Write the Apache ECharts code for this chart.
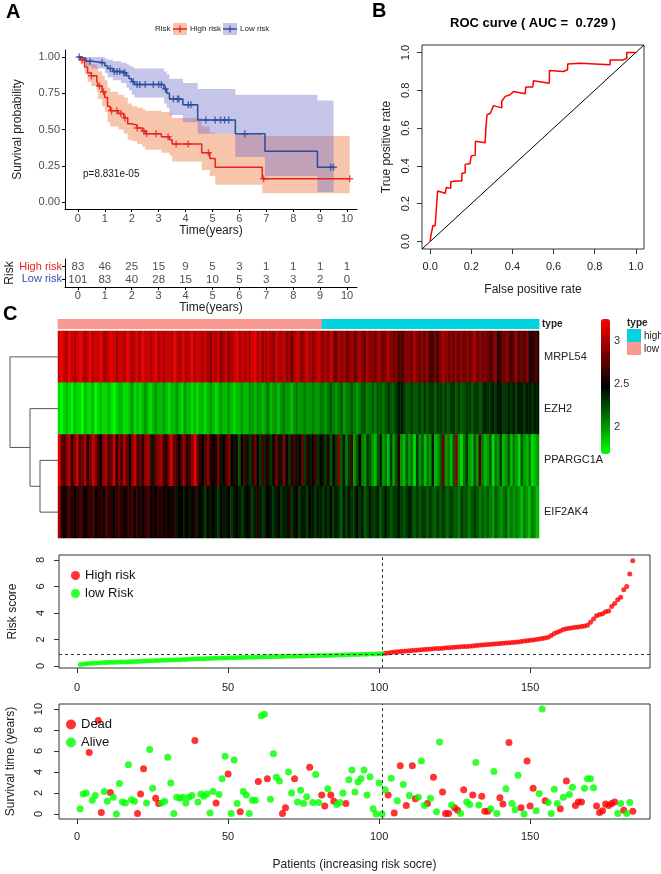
<!DOCTYPE html>
<html><head><meta charset="utf-8">
<script src="https://cdn.jsdelivr.net/npm/echarts/dist/echarts.min.js"></script>
<style>html,body{margin:0;padding:0;background:#fff}#c{width:661px;height:874px}</style>
</head><body><div id="c"></div><script>
// ---------------- data ----------------
const kmTicks = [0,1,2,3,4,5,6,7,8,9,10];
const atRiskHigh = [83,46,25,15,9,5,3,1,1,1,1];
const atRiskLow = [101,83,40,28,15,10,5,3,3,2,0];
const pValueText = 'p=8.831e-05';

const kmHighT = [0,0.1,0.25,0.36,0.5,0.7,0.75,0.9,1.0,1.1,1.2,1.5,1.7,1.85,2.0,2.2,2.4,2.5,3.1,3.4,3.5,4.6,4.9,5.1,6.85,10.1];
const kmHighS = [1,0.98,0.93,0.89,0.87,0.84,0.80,0.76,0.72,0.66,0.63,0.61,0.58,0.54,0.53,0.51,0.49,0.47,0.45,0.43,0.40,0.34,0.30,0.24,0.16,0.16];
const kmHighU = [1,1,0.99,0.97,0.95,0.93,0.90,0.87,0.84,0.79,0.76,0.74,0.72,0.68,0.66,0.65,0.64,0.63,0.62,0.61,0.58,0.52,0.48,0.47,0.455,0.455];
const kmHighL = [1,0.95,0.88,0.83,0.80,0.76,0.71,0.66,0.62,0.55,0.52,0.50,0.47,0.43,0.42,0.40,0.38,0.36,0.34,0.32,0.28,0.22,0.18,0.12,0.06,0.06];
const kmLowT = [0,0.1,0.3,0.5,1.0,1.1,1.3,1.6,1.8,1.9,2.0,2.1,3.2,3.3,3.4,3.9,4.45,5.85,6.95,8.9,9.5];
const kmLowS = [1,0.99,0.97,0.96,0.94,0.92,0.90,0.89,0.87,0.85,0.83,0.81,0.78,0.75,0.71,0.67,0.565,0.47,0.35,0.24,0.24];
const kmLowU = [1,1,1,1,0.99,0.98,0.97,0.96,0.95,0.94,0.93,0.92,0.90,0.88,0.85,0.82,0.78,0.74,0.74,0.70,0.70];
const kmLowL = [1,0.97,0.94,0.92,0.89,0.86,0.84,0.82,0.79,0.77,0.74,0.72,0.68,0.65,0.60,0.55,0.47,0.31,0.18,0.07,0.07];
const censorHigh = [0.15,0.5,0.8,0.95,1.25,1.45,1.6,1.75,2.2,2.45,2.55,2.9,3.35,3.65,4.1,4.85,6.9,10.1];
const censorLow = [0.05,0.45,0.9,1.2,1.35,1.45,1.55,1.7,1.75,2.05,2.2,2.3,2.5,2.8,3.0,3.1,3.25,3.55,3.7,3.75,4.1,4.2,4.75,5.1,5.3,5.45,5.6,6.2,9.4,9.5];

const aucValue = '0.729';
const rocFpr = [0,0.003,0.008,0.013,0.024,0.024,0.032,0.036,0.073,0.078,0.10,0.10,0.122,0.122,0.154,0.154,0.17,0.17,0.194,0.199,0.219,0.22,0.267,0.271,0.276,0.292,0.308,0.348,0.348,0.365,0.389,0.405,0.462,0.465,0.499,0.502,0.579,0.58,0.648,0.652,0.668,0.669,0.729,0.875,0.875,0.94,0.956,0.956,1.0];
const rocTpr = [0,0.030,0.039,0.083,0.083,0.088,0.091,0.267,0.255,0.285,0.281,0.316,0.32,0.327,0.32,0.36,0.364,0.408,0.413,0.452,0.457,0.531,0.522,0.601,0.671,0.677,0.719,0.707,0.742,0.768,0.777,0.794,0.782,0.817,0.817,0.851,0.838,0.905,0.90,0.909,0.909,0.94,0.944,0.935,0.961,0.961,0.97,1.0,1.0];

const genes = ['MRPL54','EZH2','PPARGC1A','EIF2AK4'];
const nLow = 101, nHigh = 83;
const mrpl54 = [
3.1,3.2,3.1,3.0,3.2,3.1,3.0,3.1,3.2,3.1, 3.0,3.1,3.2,3.0,3.1,3.1,3.2,3.0,3.0,3.1,
3.2,3.1,3.0,3.1,3.1,3.0,3.2,3.1,3.0,3.1, 3.1,3.0,3.2,3.1,3.1,3.0,3.1,3.2,3.0,3.1,
3.0,3.1,3.1,3.0,3.2,3.1,3.0,3.1,3.1,3.0, 3.1,3.2,3.0,3.1,3.1,3.0,3.1,3.0,2.9,3.1,
3.0,3.1,2.9,3.0,3.1,2.9,3.0,3.1,3.2,3.0, 3.1,3.0,3.1,3.0,3.1,3.2,3.0,3.1,2.9,3.0,
3.1,3.0,2.9,3.1,3.0,3.0,3.1,2.9,3.0,2.8, 3.0,3.1,3.0,2.9,3.0,3.1,3.0,2.9,3.0,3.1, 3.0,
2.9,3.0,2.9,3.1,2.9,2.8,3.0,2.9,3.0,2.8, 2.9,3.0,2.8,2.9,3.0,2.9,2.8,3.0,2.9,2.9,
2.8,3.0,2.9,2.8,2.9,3.0,2.9,2.8,2.9,2.7, 2.7,2.8,2.9,2.9,2.8,3.0,2.9,2.8,2.9,2.8,
2.9,2.7,2.7,2.8,2.7,2.9,3.0,2.9,2.8,2.9, 2.8,2.9,2.8,2.9,2.8,2.9,2.8,2.9,3.0,2.8,
2.9,2.8,2.9,2.8,2.7,2.8,2.9,2.6,2.7,2.8, 2.9,2.8,2.7,2.8,2.9,2.7,2.8,2.7,2.9,2.6, 2.6,2.7,2.6];
const ezh2 = [
1.8,1.7,1.8,1.9,1.8,1.7,1.9,1.8,1.8,1.7, 1.9,1.8,1.8,1.9,1.7,1.8,1.9,1.8,1.8,1.9,
1.8,1.7,1.8,1.9,1.9,1.8,1.8,1.9,2.0,1.8, 1.9,1.8,1.9,2.0,1.9,1.8,1.9,2.0,1.9,1.9,
2.0,1.9,1.8,1.9,1.9,2.0,1.9,1.8,2.0,1.9, 1.9,1.8,1.9,1.8,1.9,1.9,1.8,1.9,2.0,1.9,
1.8,1.9,2.0,1.9,1.9,2.0,1.9,1.8,1.9,1.9, 2.0,1.9,1.9,2.0,2.0,1.9,2.0,2.0,1.9,2.0,
2.1,1.9,2.0,2.0,1.9,2.0,2.1,2.0,2.0,1.9, 2.0,2.1,2.0,2.0,2.1,2.0,2.0,2.1,2.0,2.0, 2.1,
2.1,2.0,2.1,2.2,2.1,2.0,2.1,2.2,2.0,2.1, 2.1,2.2,2.1,2.0,2.1,2.2,2.2,2.1,2.1,2.2,
2.1,2.2,2.2,2.1,2.2,2.3,2.2,2.2,2.3,2.4, 2.4,2.3,2.2,2.2,2.3,2.2,2.2,2.3,2.2,2.3,
2.2,2.3,2.3,2.2,2.3,2.3,2.2,2.3,2.2,2.3, 2.3,2.2,2.3,2.2,2.2,2.3,2.3,2.2,2.3,2.3,
2.2,2.3,2.4,2.3,2.3,2.4,2.3,2.4,2.4,2.3, 2.3,2.4,2.3,2.4,2.3,2.4,2.4,2.3,2.4,2.4, 2.3,2.4,2.4];
const ppargc1a = [
3.2,2.8,2.7,2.9,3.0,2.6,2.9,3.1,2.7,2.8, 3.0,2.6,2.8,3.1,2.9,2.7,2.5,2.9,3.0,2.7,
2.8,3.1,2.6,2.9,2.7,3.0,2.8,2.5,2.9,3.1, 2.7,2.8,2.6,2.9,3.0,2.7,2.4,2.8,2.9,3.0,
2.7,2.6,2.9,3.1,2.8,2.7,2.5,2.8,2.9,2.6, 2.7,2.9,3.2,2.8,2.6,2.5,2.7,2.9,2.6,2.5,
2.6,2.8,2.4,2.5,2.7,2.9,2.5,2.4,2.6,2.2, 2.5,2.7,2.4,2.3,2.6,2.8,2.5,2.3,2.7,2.4,
2.6,2.3,2.5,2.8,2.6,2.4,2.9,2.5,2.3,2.6, 2.7,2.4,2.5,2.8,2.3,2.6,2.4,2.5,2.7,2.3, 2.5,
2.4,2.3,2.6,2.2,2.5,2.3,2.9,2.2,2.4,2.1, 2.3,2.7,2.0,2.2,2.5,2.1,2.0,2.3,2.2,2.0,
1.9,2.2,2.4,2.0,2.1,1.9,2.3,2.0,2.2,2.6, 2.0,1.9,2.2,2.0,2.1,1.8,2.3,2.0,2.2,1.9,
2.1,2.0,2.4,1.9,2.0,2.2,2.8,2.0,2.1,1.9, 2.2,2.9,2.0,1.8,2.1,2.3,2.0,1.9,2.2,2.0,
2.7,2.1,1.9,2.0,2.2,1.8,2.1,2.0,2.3,1.9, 2.0,2.2,1.9,2.1,2.0,1.8,2.2,2.0,1.9,2.1, 1.8,1.9,2.0];
const eif2ak4 = [
3.0,2.6,2.5,2.6,2.7,2.6,2.5,2.6,2.7,2.6, 2.5,2.6,2.6,2.7,2.5,2.6,2.6,2.5,2.7,2.6,
2.6,2.5,2.6,2.7,2.6,2.5,2.6,2.6,2.7,2.5, 2.6,2.6,2.5,2.6,2.7,2.5,2.6,2.5,2.6,2.6,
2.5,2.6,2.5,2.5,2.6,2.4,2.5,2.5,2.4,2.5, 2.4,2.5,2.6,2.4,2.5,2.4,2.3,2.5,2.4,2.5,
2.4,2.3,2.5,2.4,2.4,2.5,2.3,2.4,2.5,2.4, 2.3,2.4,2.5,2.4,2.3,2.4,2.6,2.4,2.3,2.4,
2.5,2.4,2.3,2.4,2.5,2.3,2.4,2.4,2.6,2.3, 2.4,2.5,2.3,2.4,2.4,2.3,2.5,2.4,2.3,2.4, 2.4,
2.3,2.4,2.3,2.5,2.3,2.4,2.3,2.2,2.4,2.3, 2.4,2.3,2.3,2.5,2.3,2.4,2.2,2.3,2.4,2.3,
2.3,2.4,2.2,2.3,2.4,2.3,2.2,2.3,2.3,2.4, 2.3,2.2,2.3,2.4,2.3,2.2,2.3,2.2,2.3,2.3,
2.2,2.3,2.2,2.2,2.3,2.2,2.3,2.2,2.2,2.3, 2.2,2.2,2.1,2.3,2.2,2.2,2.1,2.2,2.3,2.2,
2.1,2.2,2.1,2.2,2.1,2.0,2.2,2.1,2.0,2.1, 2.2,2.0,2.1,2.0,2.1,2.0,1.9,2.1,2.0,1.9, 2.1,2.0,1.9];
const dendroHeights = [18,28,48]; // (PPARGC1A,EIF2AK4), EZH2 join, MRPL54 join
const colorMin = 1.69, colorMax = 3.26;
const colorTicks = [2,2.5,3];

const riskLow = [
0.12,0.16,0.18,0.19,0.20,0.21,0.22,0.24,0.26,0.27, 0.28,0.29,0.29,0.30,0.31,0.31,0.32,0.33,0.34,0.35,
0.36,0.37,0.38,0.39,0.40,0.41,0.42,0.43,0.44,0.45, 0.46,0.46,0.47,0.48,0.49,0.50,0.51,0.52,0.53,0.54,
0.55,0.55,0.56,0.57,0.58,0.59,0.60,0.60,0.61,0.62, 0.62,0.63,0.64,0.64,0.65,0.66,0.66,0.67,0.67,0.68,
0.68,0.69,0.70,0.70,0.71,0.71,0.72,0.72,0.73,0.73, 0.74,0.74,0.75,0.75,0.76,0.76,0.77,0.77,0.78,0.79,
0.79,0.80,0.80,0.81,0.82,0.83,0.83,0.84,0.85,0.85, 0.86,0.87,0.87,0.88,0.88,0.89,0.90,0.90,0.91,0.92,0.93];
const riskHigh = [
0.96,0.99,1.02,1.05,1.07,1.09,1.11,1.13,1.15,1.17, 1.19,1.21,1.23,1.25,1.27,1.28,1.30,1.32,1.33,1.35,
1.37,1.38,1.40,1.42,1.43,1.45,1.47,1.48,1.50,1.52, 1.54,1.56,1.58,1.60,1.62,1.64,1.66,1.68,1.70,1.72,
1.74,1.76,1.78,1.80,1.82,1.85,1.88,1.91,1.94,1.97, 2.00,2.04,2.08,2.12,2.17,2.30,2.45,2.55,2.65,2.75,
2.82,2.86,2.89,2.92,2.95,2.98,3.02,3.08,3.30,3.55, 3.80,3.88,3.95,4.10,4.15,4.50,4.72,5.00,5.20,5.75,6.00,6.95,7.95];
const riskCutIndex = 101, riskCutScore = 0.9;

const survTime = [
0.5,1.9,2.0,5.85,1.3,1.75,8.9,0.15,2.15,1.2, 2.05,1.6,0.0,2.9,1.15,1.05,4.7,1.35,1.2,0.05,
1.9,4.3,1.05,6.15,2.45,1.5,1.0,1.05,1.2,5.4, 2.95,0.05,1.6,1.5,1.6,1.05,1.6,1.75,7.0,1.15,
1.9,1.7,1.9,0.1,2.15,1.05,1.85,3.35,5.5,3.8, 0.05,5.15,1.0,0.2,2.15,1.8,0.05,1.3,1.3,3.1,
9.35,9.5,3.35,1.4,5.75,3.5,3.15,0.05,0.6,4.0, 2.0,3.35,1.15,2.25,1.0,1.65,4.45,1.1,3.75,1.1,
1.8,0.75,2.4,1.8,1.2,0.9,1.1,2.0,1.0,3.25, 4.2,2.1,3.05,3.35,4.2,1.8,3.55,0.5,0.0,2.95,
0.0,2.3,1.8,3.4,0.1,1.25,4.6,2.8,0.8,1.75, 4.6,1.45,1.6,5.05,0.8,1.0,1.5,3.5,0.2,6.85,
2.1,0.05,0.05,0.85,0.6,0.35,0.05,2.3,1.15,0.9, 1.8,4.9,0.85,1.7,0.25,0.25,0.5,4.05,0.05,1.55,
0.95,2.4,6.8,1.0,0.4,3.7,0.6,0.0,5.05,0.75, 2.45,0.3,1.95,10.0,1.25,1.1,0.05,2.35,1.0,0.5,
1.6,3.15,1.85,2.55,0.8,1.15,1.15,2.45,3.35,3.35, 2.5,0.75,0.15,0.3,0.95,0.8,1.0,1.15,0.05,1.0,
0.35,0.05,1.1,0.25];
const survDead = [
0,0,0,1,0,0,1,1,0,0, 1,0,0,0,0,0,0,0,0,1,
1,1,0,0,0,1,1,0,0,0, 0,0,0,0,0,0,0,0,1,0,
0,0,0,0,0,1,0,0,0,1, 0,0,0,1,0,0,0,0,0,1,
0,0,1,0,0,0,0,1,1,0, 0,1,0,0,0,0,1,0,0,0,
1,1,0,1,1,0,0,0,1,0, 0,0,0,0,0,0,0,0,0,0,
0,0,1,0,1,0,1,0,1,0, 1,1,0,0,0,1,0,1,0,0,
1,1,1,0,1,1,0,1,0,0, 1,0,0,1,1,1,0,0,0,1,
1,0,1,0,0,0,1,0,1,1, 1,0,0,0,1,0,0,0,0,1,
0,1,0,0,1,1,1,0,0,0, 0,1,1,1,1,1,1,1,0,0,
1,0,0,1];

// ---------------- build ----------------
const FONT = "'Liberation Sans', Arial, Helvetica, sans-serif";
const NARROW = "'Liberation Sans Narrow', 'Liberation Sans', Arial, sans-serif";
const chart = echarts.init(document.getElementById('c'), null, {renderer:'canvas', width:661, height:874});

function bandSeries(T,U,L,color){
  return {type:'custom', xAxisIndex:0, yAxisIndex:0, silent:true, z:1, data:[[0,0]],
    renderItem:function(params, api){
      const pts=[];
      for(let i=0;i<T.length-1;i++){ pts.push(api.coord([T[i],U[i]])); pts.push(api.coord([T[i+1],U[i]])); }
      for(let i=T.length-2;i>=0;i--){ pts.push(api.coord([T[i+1],L[i]])); pts.push(api.coord([T[i],L[i]])); }
      return {type:'polygon', shape:{points:pts}, style:{fill:color}};
    }};
}
function stepAt(T,S,t){ let v=S[0]; for(let i=0;i<T.length;i++){ if(T[i]<=t) v=S[i]; } return v; }
const plusPath = 'path://M4,0h2v10h-2z M0,4h10v2h-10z';

const tickLabelStyle = {fontSize:11, color:'#222', fontFamily:FONT};
function rAxis(gi, min, max, ticks, fmt, rot, margin, name, nameGap){
  return {type:'value', gridIndex:gi, min:min, max:max, splitLine:{show:false},
    axisLine:{show:false, onZero:false}, axisTick:{show:true, inside:false, length:5, lineStyle:{color:'#333'}, customValues:ticks},
    axisLabel:Object.assign({customValues:ticks, formatter:fmt, rotate:rot, margin:margin}, tickLabelStyle),
    name:name, nameLocation:'middle', nameGap:nameGap, nameRotate: (rot? 90: 0),
    nameTextStyle:{fontSize:12, color:'#222', fontFamily:FONT}};
}
function ggAxis(gi, min, max, ticks, fmt, margin, name, nameGap, isY){
  return {type:'value', gridIndex:gi, min:min, max:max, splitLine:{show:false},
    axisLine:{show:true, onZero:false, lineStyle:{color:'#000', width:1}},
    axisTick:{show:true, length:3, lineStyle:{color:'#000'}, customValues:ticks},
    axisLabel:{customValues:ticks, formatter:fmt, margin:margin, fontSize:11, color:'#4d4d4d', fontFamily:FONT},
    name:name, nameLocation:'middle', nameGap:nameGap, nameRotate: isY?90:0,
    nameTextStyle:{fontSize:12, color:'#222', fontFamily:FONT}};
}

const cols = []; for(let i=0;i<nLow+nHigh;i++) cols.push(String(i));
const heatRows = [mrpl54, ezh2, ppargc1a, eif2ak4];
const heatData = [];
heatRows.forEach((row,r)=>row.forEach((v,c)=>heatData.push([c,r,v])));
const groupData = cols.map((c,i)=>[i, i<nLow ? 0 : 1]);
const groupColors = ['#F99A92','#00D4DF'];

const h = dendroHeights;
const dendroData = [
  {coords:[[0,2.5],[h[0],2.5],[h[0],3.5],[0,3.5]]},
  {coords:[[0,1.5],[h[1],1.5],[h[1],3.0],[h[0],3.0]]},
  {coords:[[0,0.5],[h[2],0.5],[h[2],2.25],[h[1],2.25]]}
];

const riskHighData = riskHigh.map((v,i)=>[nLow+i+1, v]);
const riskLowData = riskLow.map((v,i)=>[i+1, v]);
const deadData = [], aliveData = [];
survTime.forEach((t,i)=>{ (survDead[i] ? deadData : aliveData).push([i+1, t]); });

const patientTicks = [0,50,100,150];
const dashed = {type:[3,3], color:'#333', width:1};

const option = {
  animation:false,
  backgroundColor:'#fff',
  textStyle:{fontFamily:FONT},
  grid:[
    {left:65, top:50, width:292, height:159, outerBoundsMode:'none'},
    {left:65, top:259, width:292, height:28, outerBoundsMode:'none'},
    {left:422, top:45, width:222, height:204, show:true, borderColor:'#333', borderWidth:1, backgroundColor:'transparent', outerBoundsMode:'none'},
    {left:58, top:319, width:481, height:10, outerBoundsMode:'none'},
    {left:58, top:331, width:481, height:207, outerBoundsMode:'none'},
    {left:5, top:331, width:53, height:207, outerBoundsMode:'none'},
    {left:601, top:319, width:9, height:135, outerBoundsMode:'none'},
    {left:59, top:555, width:591, height:113, show:true, borderColor:'#333', borderWidth:1, backgroundColor:'transparent', outerBoundsMode:'none'},
    {left:59, top:704, width:591, height:115, show:true, borderColor:'#333', borderWidth:1, backgroundColor:'transparent', outerBoundsMode:'none'}
  ],
  xAxis:[
    ggAxis(0,-0.48,10.37,kmTicks,v=>String(v),4,'Time(years)',14,false),
    ggAxis(1,-0.48,10.37,kmTicks,v=>String(v),3,'Time(years)',12,false),
    rAxis(2,-0.04,1.04,[0,0.2,0.4,0.6,0.8,1],v=>v.toFixed(1),0,12,'False positive rate',35),
    {type:'category', gridIndex:3, data:cols, show:false},
    {type:'category', gridIndex:4, data:cols, show:false},
    {type:'value', gridIndex:5, min:0, max:53, inverse:true, show:false},
    {type:'value', gridIndex:6, min:0, max:1, show:false},
    rAxis(7,-6,189.7,patientTicks,v=>String(v),0,14,'',0),
    rAxis(8,-6,189.7,patientTicks,v=>String(v),0,12,'Patients (increasing risk socre)',40)
  ],
  yAxis:[
    ggAxis(0,-0.048,1.048,[0,0.25,0.5,0.75,1],v=>v.toFixed(2),5,'Survival probability',41,true),
    Object.assign(ggAxis(1,0.4,2.6,[1,2],v=>(v===2?'{h|High risk}':'{l|Low risk}'),3,'Risk',47,true),
      {axisLabel:{customValues:[1,2], formatter:v=>(v===2?'{h|High risk}':'{l|Low risk}'), margin:3, fontSize:11, fontFamily:FONT,
        rich:{h:{color:'#E8231F', fontSize:11, fontFamily:FONT}, l:{color:'#3050A8', fontSize:11, fontFamily:FONT}}}}),
    rAxis(2,-0.04,1.04,[0,0.2,0.4,0.6,0.8,1],v=>v.toFixed(1),90,11,'True positive rate',29),
    {type:'value', gridIndex:3, min:0, max:1, show:false},
    {type:'category', gridIndex:4, data:genes, inverse:true, position:'right',
      axisLine:{show:false}, axisTick:{show:false}, axisLabel:{fontSize:11, color:'#222', margin:5, fontFamily:FONT}},
    {type:'value', gridIndex:5, min:0, max:4, inverse:true, show:false},
    {type:'value', gridIndex:6, min:colorMin, max:colorMax, position:'right', splitLine:{show:false},
      axisLine:{show:false}, axisTick:{show:false},
      axisLabel:{customValues:colorTicks, formatter:v=>String(v), fontSize:11, color:'#333', margin:4, fontFamily:FONT}},
    rAxis(7,-0.15,8.38,[0,2,4,6,8],v=>String(v),90,13,'Risk score',40),
    rAxis(8,-0.48,10.48,[0,2,4,6,8,10],v=>String(v),90,15,'Survival time (years)',42)
  ],
  visualMap:[{type:'continuous', seriesIndex:11, min:colorMin, max:colorMax, calculable:false,
    inRange:{color:['#00FF00','#000000','#FF0000']}, orient:'vertical', left:601, top:319,
    itemWidth:9, itemHeight:135, padding:0, hoverLink:false}],
  legend:[
    {data:['High risk','low Risk'], left:66, top:564, orient:'vertical', icon:'circle', itemWidth:9, itemHeight:9, itemGap:5,
      textStyle:{fontSize:13, color:'#111', fontFamily:FONT}, selectedMode:false},
    {data:['Dead','Alive'], left:61, top:713, orient:'vertical', icon:'circle', itemWidth:10, itemHeight:10, itemGap:5,
      textStyle:{fontSize:13, color:'#111', fontFamily:FONT}, selectedMode:false}
  ],
  graphic:[
    {type:'text', x:6, y:2, style:{text:'A', font:'bold 20px '+NARROW, fill:'#000'}},
    {type:'text', x:372, y:1, style:{text:'B', font:'bold 20px '+NARROW, fill:'#000'}},
    {type:'text', x:3, y:304, style:{text:'C', font:'bold 20px '+NARROW, fill:'#000'}},
    {type:'text', x:533, y:23, style:{text:'ROC curve ( AUC =  '+aucValue+' )', font:'bold 13px '+FONT, fill:'#000', textAlign:'center', textVerticalAlign:'middle'}},
    {type:'text', x:83, y:174, style:{text:pValueText, font:'10px '+FONT, fill:'#222', textVerticalAlign:'middle'}},
    {type:'text', x:155, y:29, style:{text:'Risk', font:'8px '+FONT, fill:'#222', textVerticalAlign:'middle'}},
    {type:'rect', shape:{x:173, y:23, width:14, height:12}, style:{fill:'rgba(237,125,70,0.45)'}},
    {type:'line', shape:{x1:173, y1:29, x2:187, y2:29}, style:{stroke:'#E8231F', lineWidth:1.5}},
    {type:'line', shape:{x1:180, y1:25.5, x2:180, y2:32.5}, style:{stroke:'#E8231F', lineWidth:1.2}},
    {type:'text', x:190, y:29, style:{text:'High risk', font:'8px '+FONT, fill:'#222', textVerticalAlign:'middle'}},
    {type:'rect', shape:{x:223, y:23, width:14, height:12}, style:{fill:'rgba(110,110,200,0.4)'}},
    {type:'line', shape:{x1:223, y1:29, x2:237, y2:29}, style:{stroke:'#2A4C9E', lineWidth:1.5}},
    {type:'line', shape:{x1:230, y1:25.5, x2:230, y2:32.5}, style:{stroke:'#2A4C9E', lineWidth:1.2}},
    {type:'text', x:240, y:29, style:{text:'Low risk', font:'8px '+FONT, fill:'#222', textVerticalAlign:'middle'}},
    {type:'text', x:542, y:324, style:{text:'type', font:'bold 10px '+FONT, fill:'#222', textVerticalAlign:'middle'}},
    {type:'text', x:627, y:323, style:{text:'type', font:'bold 10px '+FONT, fill:'#222', textVerticalAlign:'middle'}},
    {type:'rect', shape:{x:627, y:329, width:14, height:13}, style:{fill:'#00D4DF'}},
    {type:'rect', shape:{x:627, y:342, width:14, height:13}, style:{fill:'#F99A92'}},
    {type:'text', x:644, y:336, style:{text:'high', font:'10px '+FONT, fill:'#222', textVerticalAlign:'middle'}},
    {type:'text', x:644, y:349, style:{text:'low', font:'10px '+FONT, fill:'#222', textVerticalAlign:'middle'}}
  ],
  series:[
    bandSeries(kmHighT,kmHighU,kmHighL,'rgba(237,125,70,0.45)'),
    bandSeries(kmLowT,kmLowU,kmLowL,'rgba(110,110,200,0.4)'),
    {type:'line', xAxisIndex:0, yAxisIndex:0, step:'end', showSymbol:false, z:3,
      data:kmHighT.map((t,i)=>[t,kmHighS[i]]), lineStyle:{color:'#E8231F', width:1.5}},
    {type:'line', xAxisIndex:0, yAxisIndex:0, step:'end', showSymbol:false, z:3,
      data:kmLowT.map((t,i)=>[t,kmLowS[i]]), lineStyle:{color:'#2A4C9E', width:1.5}},
    {type:'scatter', xAxisIndex:0, yAxisIndex:0, symbol:plusPath, symbolSize:7, z:4,
      data:censorHigh.map(t=>[t, stepAt(kmHighT,kmHighS,t)]), itemStyle:{color:'#E8231F'}},
    {type:'scatter', xAxisIndex:0, yAxisIndex:0, symbol:plusPath, symbolSize:7, z:4,
      data:censorLow.map(t=>[t, stepAt(kmLowT,kmLowS,t)]), itemStyle:{color:'#2A4C9E'}},
    {type:'scatter', xAxisIndex:1, yAxisIndex:1, symbolSize:0,
      data:kmTicks.map((t,i)=>[t,2,atRiskHigh[i]]),
      label:{show:true, position:'inside', formatter:p=>String(p.value[2]), fontSize:11.5, color:'#222', fontFamily:FONT}},
    {type:'scatter', xAxisIndex:1, yAxisIndex:1, symbolSize:0,
      data:kmTicks.map((t,i)=>[t,1,atRiskLow[i]]),
      label:{show:true, position:'inside', formatter:p=>String(p.value[2]), fontSize:11.5, color:'#222', fontFamily:FONT}},
    {type:'line', xAxisIndex:2, yAxisIndex:2, showSymbol:false, data:[[-0.04,-0.04],[1.04,1.04]], lineStyle:{color:'#000', width:1}},
    {type:'line', xAxisIndex:2, yAxisIndex:2, showSymbol:false, data:rocFpr.map((x,i)=>[x,rocTpr[i]]), lineStyle:{color:'#FF0000', width:1.5}},
    {type:'custom', xAxisIndex:3, yAxisIndex:3, data:groupData, silent:true,
      renderItem:function(params, api){
        const c = api.coord([api.value(0), 0]);
        const w = api.size([1, 0])[0];
        const top = api.coord([api.value(0), 1])[1];
        return {type:'rect', shape:{x:c[0]-w/2-0.4, y:top, width:w+0.8, height:c[1]-top},
          style:{fill:groupColors[api.value(1)]}};
      }},
    {type:'heatmap', xAxisIndex:4, yAxisIndex:4, data:heatData, progressive:0, emphasis:{disabled:true}},
    {type:'lines', coordinateSystem:'cartesian2d', xAxisIndex:5, yAxisIndex:5, polyline:true, data:dendroData,
      lineStyle:{color:'#555', width:1, opacity:1}},
    {type:'scatter', xAxisIndex:6, yAxisIndex:6, data:[]},
    {name:'High risk', type:'scatter', xAxisIndex:7, yAxisIndex:7, symbolSize:5, data:riskHighData, itemStyle:{color:'#FF0000'}},
    {name:'low Risk', type:'scatter', xAxisIndex:7, yAxisIndex:7, symbolSize:5, data:riskLowData, itemStyle:{color:'#00FF00'},
      markLine:{silent:true, symbol:'none', label:{show:false}, lineStyle:dashed, data:[{xAxis:riskCutIndex},{yAxis:riskCutScore}]}},
    {name:'Dead', type:'scatter', xAxisIndex:8, yAxisIndex:8, symbolSize:7, data:deadData, itemStyle:{color:'#FF0000'}},
    {name:'Alive', type:'scatter', xAxisIndex:8, yAxisIndex:8, symbolSize:7, data:aliveData, itemStyle:{color:'#00FF00'},
      markLine:{silent:true, symbol:'none', label:{show:false}, lineStyle:dashed, data:[{xAxis:riskCutIndex}]}}
  ]
};
chart.setOption(option);
</script></body></html>
